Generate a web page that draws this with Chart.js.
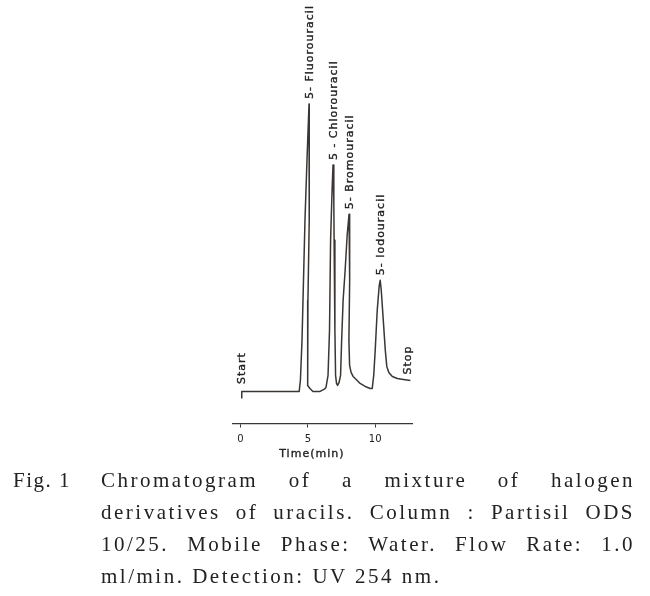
<!DOCTYPE html>
<html>
<head>
<meta charset="utf-8">
<script src="https://cdn.jsdelivr.net/npm/chart.js@4/dist/chart.umd.min.js"></script>
<style>
  html, body { margin: 0; padding: 0; background: #fff; }
  body { width: 650px; height: 596px; position: relative; overflow: hidden; }
  #chart { position: absolute; left: 0; top: 0; }
  .cap { position: absolute; font-family: "Liberation Serif", "DejaVu Serif", serif; font-size: 21px;
         letter-spacing: 2.5px; color: #222; line-height: 32px; }
  #fig { left: 13px; top: 464px; letter-spacing: 1.5px; }
  #para { left: 101px; top: 464px; width: 534px; }
  #para div { white-space: nowrap; text-align: justify; text-align-last: justify; }
  #para div.last { text-align-last: left; }
</style>
</head>
<body>
<canvas id="chart" width="650" height="470"></canvas>
<div class="cap" id="fig">Fig. 1</div>
<div class="cap" id="para">
  <div>Chromatogram of a mixture of halogen</div>
  <div>derivatives of uracils. Column : Partisil ODS</div>
  <div>10/25. Mobile Phase: Water. Flow Rate: 1.0</div>
  <div class="last">ml/min. Detection: UV 254 nm.</div>
</div>
<script>
// detector trace (signal in arbitrary units above baseline)
const timeMin = [0.07, 0.1, 4.36, 4.45, 4.57, 4.68, 4.79, 4.94, 5.09, 5.12, 5.09, 5.01, 4.97, 5.01, 5.16, 5.38,
  5.91, 6.2, 6.35, 6.5, 6.61, 6.69, 6.8, 6.87, 6.93, 6.95, 7.01, 7.06, 7.13, 7.21, 7.32, 7.43, 7.51, 7.62, 7.77,
  7.92, 8.06, 8.12, 8.09, 8.05, 8.1, 8.21, 8.36, 8.59, 8.88, 9.26, 9.63, 9.78, 9.89, 10.0, 10.15, 10.3, 10.37,
  10.45, 10.6, 10.75, 10.86, 11.01, 11.27, 11.64, 12.09, 12.61];
const signal = [-6.5, 0, 0, 11, 51, 111, 171, 231, 287, 251, 171, 91, 31, 6, 3, 0,
  0, 2, 4, 16, 61, 151, 201, 226, 191, 151, 61, 16, 8, 6, 9, 16, 51, 91, 121,
  156, 177, 156, 111, 51, 26, 19, 15, 12, 8, 5, 3, 3, 16, 41, 81, 106, 111,
  101, 71, 41, 25, 19, 15, 13, 12, 11];

const peakNames = ['5- Fluorouracil', '5 - Chlorouracil', '5- Bromouracil', '5- Iodouracil'];
const peakTimes = [5.09, 6.87, 8.06, 10.37];
const markerNames = ['Start', 'Stop'];
const xTicks = [0, 5, 10];
const xTitle = 'Time(min)';

const ink = '#222';

function drawUp(ctx, text, px, py) {
  ctx.save();
  ctx.translate(px, py);
  ctx.rotate(-Math.PI / 2);
  ctx.strokeText(text, 0, 0);
  ctx.fillText(text, 0, 0);
  ctx.restore();
}

const traceLabels = {
  id: 'traceLabels',
  afterDatasetsDraw(chart) {
    const { ctx, scales: { x, y } } = chart;
    ctx.save();
    ctx.fillStyle = ink;
    ctx.strokeStyle = ink;
    ctx.lineWidth = 0.35;
    ctx.font = '11px "DejaVu Sans"';
    ctx.letterSpacing = '1px';
    ctx.textAlign = 'left';
    ctx.textBaseline = 'middle';
    peakNames.forEach((name, i) => {
      let best = -1;
      timeMin.forEach((t, j) => {
        if (Math.abs(t - peakTimes[i]) < 0.3 && (best < 0 || signal[j] > signal[best])) best = j;
      });
      drawUp(ctx, name, x.getPixelForValue(timeMin[best]) + 1, y.getPixelForValue(signal[best]) - 5);
    });
    // start / stop marks sit on the ends of the trace
    const last = timeMin.length - 1;
    drawUp(ctx, markerNames[0], x.getPixelForValue(timeMin[0]) + 1, y.getPixelForValue(signal[0]) - 14);
    drawUp(ctx, markerNames[1], x.getPixelForValue(timeMin[last]) - 2, y.getPixelForValue(signal[last]) - 6);
    // axis title, spaced like the original lettering
    ctx.textAlign = 'center';
    ctx.fillText(xTitle, x.getPixelForValue(5.3), x.bottom + 3);
    ctx.strokeText(xTitle, x.getPixelForValue(5.3), x.bottom + 3);
    ctx.restore();
  }
};

Chart.defaults.font.family = '"DejaVu Sans"';
Chart.defaults.color = ink;

new Chart(document.getElementById('chart'), {
  type: 'line',
  data: {
    datasets: [{
      data: timeMin.map((t, i) => ({ x: t, y: signal[i] })),
      borderColor: '#3a3633',
      borderWidth: 1.5,
      pointRadius: 0,
      tension: 0,
      fill: false,
      borderJoinStyle: 'round'
    }]
  },
  options: {
    responsive: false,
    animation: false,
    layout: { padding: { left: 233, right: 238, top: 91, bottom: 18.5 } },
    plugins: { legend: { display: false }, tooltip: { enabled: false } },
    scales: {
      x: {
        type: 'linear',
        min: -0.55,
        max: 12.73,
        afterBuildTicks: (scale) => { scale.ticks = xTicks.map(v => ({ value: v })); },
        border: { display: true, color: '#3a3633', width: 1.3 },
        grid: { drawOnChartArea: false, drawTicks: true, tickLength: 4, color: '#3a3633' },
        ticks: { padding: 6, font: { size: 10 }, maxRotation: 0 },
        title: { display: false }
      },
      y: { display: false, min: -32, max: 300 }
    }
  },
  plugins: [traceLabels]
});
</script>
</body>
</html>
